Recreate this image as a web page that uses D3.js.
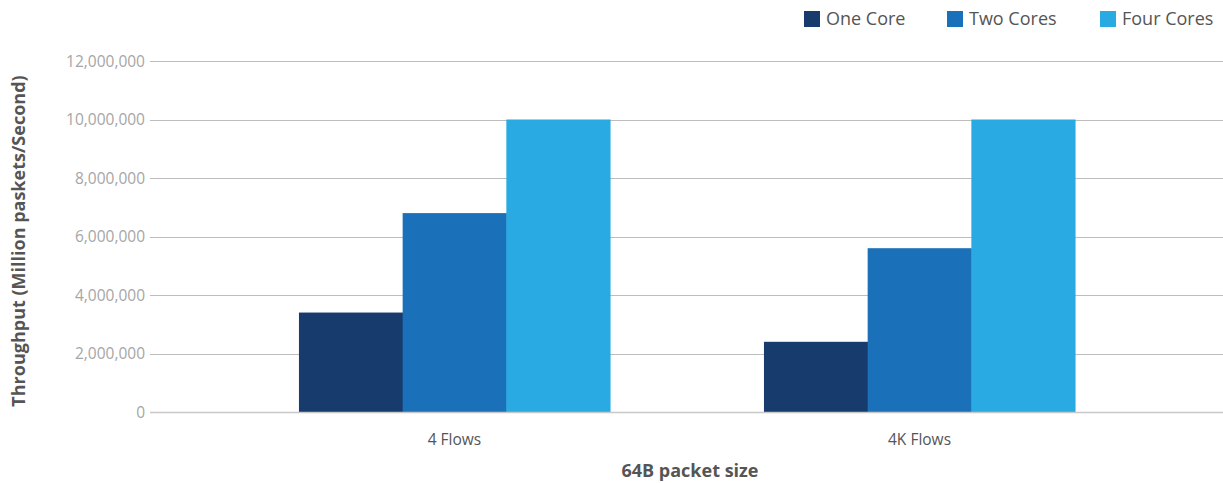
<!DOCTYPE html>
<html>
<head>
<meta charset="utf-8">
<script src="https://cdn.jsdelivr.net/npm/d3@7"></script>
<style>
  html, body { margin: 0; padding: 0; background: #fff; }
  svg { display: block; }
  svg text { font-family: "Open Sans", "Noto Sans", sans-serif; }
</style>
</head>
<body>
<svg id="chart" width="1223" height="483"></svg>
<script>
// Throughput per flow configuration, one array per core count
const categories = ["4 Flows", "4K Flows"];
const seriesNames = ["One Core", "Two Cores", "Four Cores"];
const oneCore = [3400000, 2400000];
const twoCores = [6800000, 5600000];
const fourCores = [10000000, 10000000];
const yTicks = [0, 2000000, 4000000, 6000000, 8000000, 10000000, 12000000];
const colors = ["#163b6c", "#1b71b9", "#29aae2"];

const series = [oneCore, twoCores, fourCores];
const FONT = '"Open Sans", "Noto Sans", sans-serif';

const svg = d3.select("#chart");
const plotTop = 61, plotBottom = 412;
const gridLeft = 150, gridRight = 1223;

const y = d3.scaleLinear().domain([0, 12000000]).range([plotBottom, plotTop]);
const x0 = d3.scaleBand().domain(categories).range([222, 1152]).paddingInner(0.331).paddingOuter(0.1655);
const x1 = d3.scaleBand().domain(seriesNames).range([0, x0.bandwidth()]);

// gridlines
svg.append("g")
  .selectAll("line")
  .data(yTicks)
  .join("line")
  .attr("x1", gridLeft).attr("x2", gridRight)
  .attr("y1", d => Math.round(y(d)) + 0.5).attr("y2", d => Math.round(y(d)) + 0.5)
  .attr("stroke", "#bdbdbd").attr("stroke-width", 1);

// y tick labels
const yAxis = d3.axisLeft(y).tickValues(yTicks).tickFormat(d3.format(",")).tickSize(0).tickPadding(0);
const ya = svg.append("g").attr("transform", `translate(145,0)`).call(yAxis)
  .attr("font-family", FONT);
ya.select(".domain").remove();
ya.selectAll("text")
  .attr("fill", "#a6a6a6")
  .attr("font-size", "15.5px")
  .attr("dy", "0.34em");

// bars
const groups = svg.append("g")
  .selectAll("g")
  .data(categories)
  .join("g")
  .attr("transform", d => `translate(${x0(d)},0)`);

groups.selectAll("rect")
  .data((c, i) => seriesNames.map((s, j) => ({ s, v: series[j][i], j })))
  .join("rect")
  .attr("x", d => x1(d.s))
  .attr("width", x1.bandwidth() + 0.5)
  .attr("y", d => y(d.v))
  .attr("height", d => plotBottom - y(d.v))
  .attr("fill", d => colors[d.j]);

// baseline
svg.append("line")
  .attr("x1", gridLeft).attr("x2", gridRight)
  .attr("y1", plotBottom + 0.5).attr("y2", plotBottom + 0.5)
  .attr("stroke", "#c8c8c8").attr("stroke-width", 1.5);

// x category labels
const xAxis = d3.axisBottom(x0).tickSize(0).tickPadding(0);
const xa = svg.append("g").attr("transform", `translate(0,${plotBottom})`).call(xAxis)
  .attr("font-family", FONT);
xa.select(".domain").remove();
xa.selectAll("text")
  .attr("y", 33)
  .attr("dy", 0)
  .attr("fill", "#555")
  .attr("font-size", "15.5px");

// axis titles
svg.append("text")
  .attr("x", 690).attr("y", 477)
  .attr("text-anchor", "middle")
  .attr("fill", "#555")
  .style("font-size", "18px").style("font-weight", "bold")
  .text("64B packet size");

svg.append("text")
  .attr("transform", "translate(25,241) rotate(-90)")
  .attr("text-anchor", "middle")
  .attr("fill", "#555")
  .style("font-size", "18px").style("font-weight", "bold")
  .text("Throughput (Million paskets/Second)");

// legend
const legendX = [804, 947, 1100];
const legend = svg.append("g")
  .selectAll("g")
  .data(seriesNames)
  .join("g")
  .attr("transform", (d, i) => `translate(${legendX[i]},11)`);
legend.append("rect").attr("width", 16).attr("height", 16).attr("fill", (d, i) => colors[i]);
legend.append("text")
  .attr("x", 22).attr("y", 8).attr("dy", "0.35em")
  .attr("fill", "#555")
  .style("font-size", "18px")
  .text(d => d);
</script>
</body>
</html>
